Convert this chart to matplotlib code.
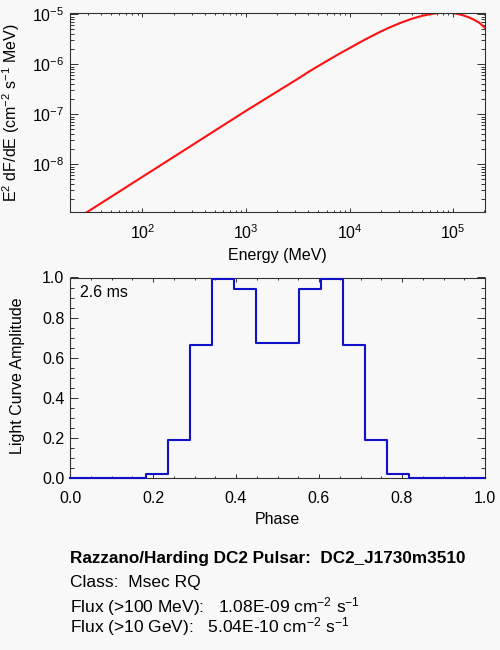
import matplotlib
matplotlib.use('Agg')
import matplotlib.pyplot as plt
import numpy as np
from matplotlib.ticker import LogLocator, NullFormatter, MultipleLocator

plt.rcParams['font.family'] = ['Liberation Sans', 'DejaVu Sans']
plt.rcParams['mathtext.fontset'] = 'custom'
plt.rcParams['mathtext.rm'] = 'Liberation Sans'
plt.rcParams['mathtext.it'] = 'Liberation Sans'
plt.rcParams['mathtext.default'] = 'regular'

# spectrum (log10 E in MeV, log10 E^2 dF/dE)
log_energy = [1.40, 1.50, 1.75, 2.00, 2.25, 2.50, 2.75, 3.00, 3.25, 3.50, 3.60, 3.70,
              3.80, 3.90, 4.00, 4.10, 4.20, 4.30, 4.40, 4.50, 4.60, 4.70, 4.80, 4.85,
              4.90, 4.95, 5.00, 5.05, 5.10, 5.15, 5.20, 5.25, 5.31]
log_flux = [-9.04, -8.91, -8.58, -8.25, -7.92, -7.59, -7.26, -6.93, -6.61, -6.29, -6.156, -6.032,
            -5.91, -5.79, -5.675, -5.56, -5.45, -5.345, -5.25, -5.165, -5.09, -5.03, -4.99, -4.976,
            -4.968, -4.966, -4.976, -4.995, -5.023, -5.06, -5.108, -5.165, -5.275]

# light curve, 19 bins (psym=10 style)
phase = [0.0, 0.0526, 0.1053, 0.1579, 0.2105, 0.2632, 0.3158, 0.3684, 0.4211, 0.4737,
         0.5263, 0.5789, 0.6316, 0.6842, 0.7368, 0.7895, 0.8421, 0.8947, 0.9474, 1.0]
amplitude = [0.0, 0.0, 0.0, 0.0, 0.02, 0.19, 0.665, 0.995, 0.945, 0.675,
             0.675, 0.945, 0.995, 0.665, 0.19, 0.02, 0.0, 0.0, 0.0, 0.0]

bg = '#f8f8f8'
axcol = '#303030'
fs = 11.5

fig = plt.figure(figsize=(5, 6.5), dpi=100, facecolor=bg)


def style_axes(ax, xmaj, xmin, ymaj, ymin):
    ax.set_facecolor(bg)
    for s in ax.spines.values():
        s.set_color(axcol)
        s.set_linewidth(0.8)
    ax.tick_params(which='both', direction='in', top=True, right=True, colors=axcol,
                   labelcolor='black', labelsize=fs, width=0.7)
    ax.tick_params(axis='x', which='major', length=xmaj)
    ax.tick_params(axis='x', which='minor', length=xmin)
    ax.tick_params(axis='y', which='major', length=ymaj)
    ax.tick_params(axis='y', which='minor', length=ymin)


# top: spectrum
ax1 = fig.add_axes([70 / 500, 1 - 211.7 / 650, 415 / 500, 199.2 / 650])
style_axes(ax1, 3, 1.5, 6, 3)
ax1.plot(10 ** np.array(log_energy), 10 ** np.array(log_flux), color='#ff1010', lw=1.5)
ax1.set_xscale('log')
ax1.set_yscale('log')
ax1.set_xlim(20, 2.03e5)
ax1.set_ylim(1.13e-9, 1.087e-5)
ax1.xaxis.set_minor_locator(LogLocator(base=10, subs=np.arange(2, 10), numticks=20))
ax1.yaxis.set_minor_locator(LogLocator(base=10, subs=np.arange(2, 10), numticks=20))
ax1.xaxis.set_minor_formatter(NullFormatter())
ax1.yaxis.set_minor_formatter(NullFormatter())
ax1.tick_params(axis='x', which='major', pad=8)
ax1.tick_params(axis='y', which='major', pad=4)
ax1.set_xlabel('Energy (MeV)', fontsize=fs)
ax1.set_ylabel(r'E$^2$ dF/dE (cm$^{-2}$ s$^{-1}$ MeV)', fontsize=fs)
ax1.xaxis.set_label_coords(0.5, -0.182)
ax1.yaxis.set_label_coords(-0.1157, 0.495)

# bottom: light curve
ax2 = fig.add_axes([70 / 500, 1 - 477.5 / 650, 415 / 500, 200 / 650])
style_axes(ax2, 3, 1.5, 6, 3)
ax2.step(phase, amplitude, where='mid', color='#1010c8', lw=1.5, clip_on=False, zorder=3)
ax2.set_xlim(0, 1)
ax2.set_ylim(0, 1.0)
ax2.xaxis.set_major_locator(MultipleLocator(0.2))
ax2.xaxis.set_minor_locator(MultipleLocator(0.05))
ax2.yaxis.set_major_locator(MultipleLocator(0.2))
ax2.yaxis.set_minor_locator(MultipleLocator(0.05))
ax2.xaxis.set_major_formatter(plt.FormatStrFormatter('%.1f'))
ax2.yaxis.set_major_formatter(plt.FormatStrFormatter('%.1f'))
ax2.tick_params(axis='x', which='major', pad=10)
ax2.tick_params(axis='y', which='major', pad=4)
ax2.set_xlabel('Phase', fontsize=fs)
ax2.set_ylabel('Light Curve Amplitude', fontsize=fs)
ax2.xaxis.set_label_coords(0.5, -0.1725)
ax2.yaxis.set_label_coords(-0.108, 0.51)
ax2.text(0.024, 0.924, '2.6 ms', transform=ax2.transAxes, fontsize=fs, va='center', ha='left')

# info text
fig.text(70 / 500, 1 - 562.7 / 650, 'Razzano/Harding DC2 Pulsar:  DC2_J1730m3510',
         fontsize=12.3, fontweight='bold', va='baseline')
fig.text(70 / 500, 1 - 587.3 / 650, 'Class:  Msec RQ', fontsize=12.5, va='baseline')
fig.text(70 / 500, 1 - 612.7 / 650, r'Flux (>100 MeV):   1.08E-09 cm$^{-2}$ s$^{-1}$',
         fontsize=12.5, va='baseline')
fig.text(70 / 500, 1 - 632.7 / 650, r'Flux (>10 GeV):   5.04E-10 cm$^{-2}$ s$^{-1}$',
         fontsize=12.5, va='baseline')

fig.savefig('out.png', dpi=100, facecolor=bg)
